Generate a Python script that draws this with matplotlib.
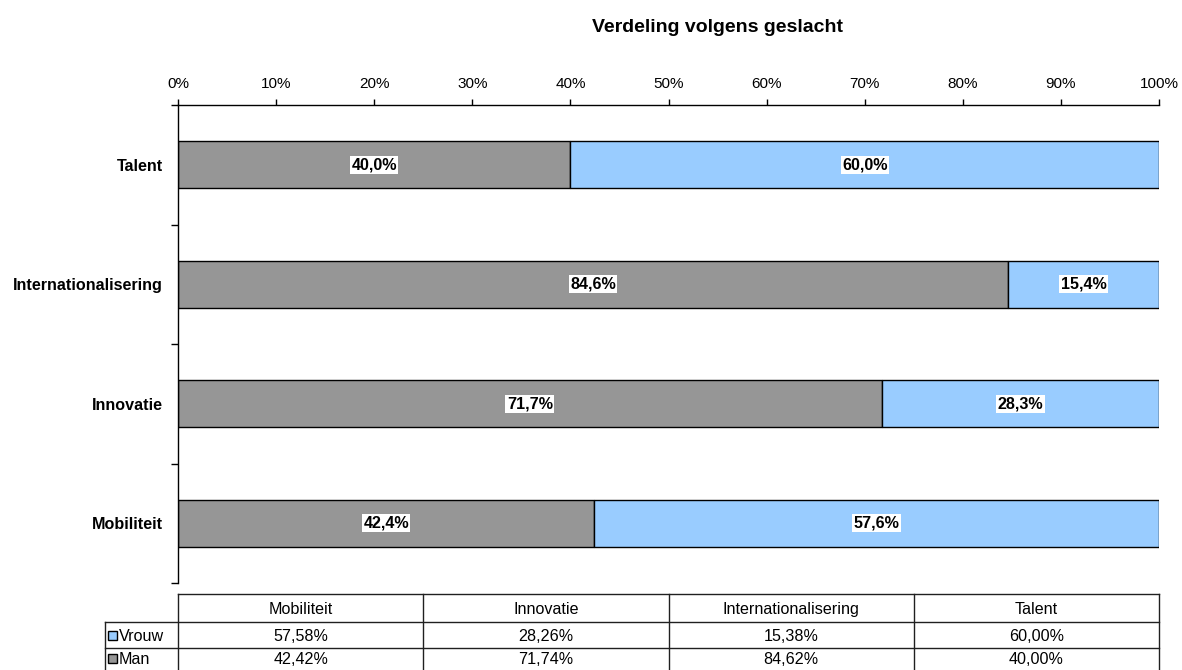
import matplotlib.pyplot as plt
import numpy as np
from matplotlib.patches import Rectangle

plt.rcParams['font.family'] = ['Liberation Sans', 'DejaVu Sans']

# data
categories = ["Mobiliteit", "Innovatie", "Internationalisering", "Talent"]
vrouw = [57.58, 28.26, 15.38, 60.00]
man = [42.42, 71.74, 84.62, 40.00]
series_names = ["Vrouw", "Man"]
x_ticks = [0, 10, 20, 30, 40, 50, 60, 70, 80, 90, 100]

grey = "#969696"
blue = "#99CCFF"
fs = 11.6

W, H = 1182, 670
fig = plt.figure(figsize=(W / 100, H / 100), dpi=100)

# plot area in pixels
px_left, px_right, px_top, px_bottom = 178, 1159, 105, 583
ax = fig.add_axes([px_left / W, 1 - px_bottom / H,
                   (px_right - px_left) / W, (px_bottom - px_top) / H])

y = np.arange(len(categories))
man_arr = np.array(man)
vrouw_arr = np.array(vrouw)
ax.barh(y, man_arr, height=0.39, color=grey, edgecolor="black", linewidth=1)
ax.barh(y, vrouw_arr, left=man_arr, height=0.39, color=blue,
        edgecolor="black", linewidth=1)

# labels in segments
for i in range(len(categories)):
    for left, val in ((0, man[i]), (man[i], vrouw[i])):
        ax.text(left + val / 2, y[i], f"{val:.1f}%".replace(".", ","),
                ha="center", va="center", fontsize=fs, fontweight="bold",
                bbox=dict(facecolor="white", edgecolor="none", pad=1))

ax.set_xlim(0, 100)
ax.set_ylim(-0.5, len(categories) - 0.5)
ax.xaxis.tick_top()
ax.set_xticks(x_ticks)
ax.set_xticklabels([f"{t}%" for t in x_ticks])
ax.tick_params(axis="x", direction="out", length=4, width=1, pad=6, labelsize=11)
ax.set_yticks(y)
ax.set_yticklabels(categories, fontweight="bold", fontsize=fs)
ax.set_yticks(np.arange(len(categories) + 1) - 0.5, minor=True)
ax.tick_params(axis="y", which="major", length=0, pad=11)
ax.tick_params(axis="y", which="minor", direction="out", length=5, width=1)
for s in ("right", "bottom"):
    ax.spines[s].set_visible(False)
for s in ("top", "left"):
    ax.spines[s].set_linewidth(1)

fig.text(718 / W, 1 - 27 / H, "Verdeling volgens geslacht",
         ha="center", va="center", fontsize=14, fontweight="bold")

# data table underneath
tab = fig.add_axes([0, 0, 1, 1], facecolor="none")
tab.set_xlim(0, W)
tab.set_ylim(H, 0)
tab.axis("off")

n = len(categories)
col_edges = np.linspace(px_left, px_right, n + 1)
row_edges = [594, 622, 648, 674]
lab_left = 105
lc = "#202020"
lw = 1

# grid lines of the table
tab.plot([px_left, px_right], [row_edges[0], row_edges[0]], color=lc, lw=lw)
for r in row_edges[1:]:
    tab.plot([lab_left, px_right], [r, r], color=lc, lw=lw)
for c in col_edges:
    tab.plot([c, c], [row_edges[0], row_edges[-1]], color=lc, lw=lw)
tab.plot([lab_left, lab_left], [row_edges[1], row_edges[-1]], color=lc, lw=lw)

for j, cat in enumerate(categories):
    cx = (col_edges[j] + col_edges[j + 1]) / 2
    tab.text(cx, (row_edges[0] + row_edges[1]) / 2, cat, ha="center",
             va="center_baseline", fontsize=fs)

rows = [(series_names[0], vrouw, blue), (series_names[1], man, grey)]
row_centers = [635, 658]
for k, (name, vals, col) in enumerate(rows):
    cy = row_centers[k]
    tab.add_patch(Rectangle((108, cy - 4.5), 9, 9, facecolor=col,
                            edgecolor="black", linewidth=1))
    tab.text(118.5, cy, name, ha="left", va="center_baseline", fontsize=fs)
    for j, v in enumerate(vals):
        cx = (col_edges[j] + col_edges[j + 1]) / 2
        tab.text(cx, cy, f"{v:.2f}%".replace(".", ","), ha="center",
                 va="center_baseline", fontsize=fs)

fig.savefig("out.png", dpi=100)
